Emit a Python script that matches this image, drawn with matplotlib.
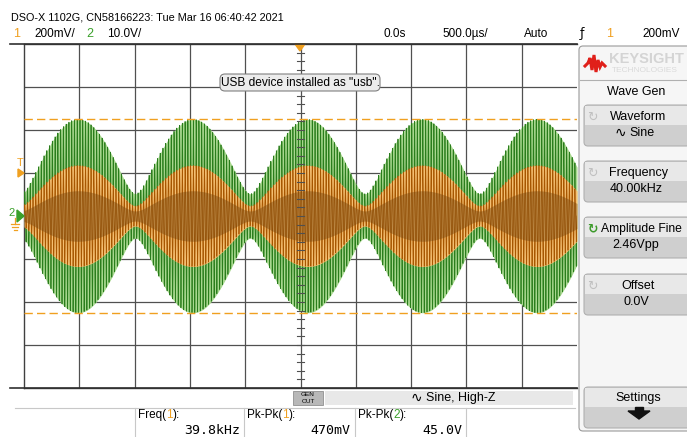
import numpy as np
import matplotlib.pyplot as plt
from matplotlib.patches import FancyBboxPatch, Rectangle, Polygon

# ---- values ----
header = "DSO-X 1102G, CN58166223: Tue Mar 16 06:40:42 2021"
ch1_scale = "200mV/"
ch2_scale = "10.0V/"
time_delay = "0.0s"
time_scale = "500.0\u00b5s/"
trig_mode = "Auto"
trig_level = "200mV"

carrier_khz = 40.0          # wave gen frequency
us_per_div = 500.0
n_div_x = 10
n_div_y = 8
beat_period_div = 2.075     # envelope period on screen
beat_peak_div = 0.98        # first envelope maximum
ch2_pkpk_v = 45.0
ch2_v_per_div = 10.0
ch1_pkpk_mv = 470.0
ch1_mv_per_div = 200.0
ch2_waist = 0.23            # envelope min / max
ch1_waist = 0.20
cursor_div = 2.26           # orange dashed cursors

meas_names = ["Freq(", "Pk-Pk(", "Pk-Pk("]
meas_ch = ["1", "1", "2"]
meas_vals = ["39.8kHz", "470mV", "45.0V"]

panel_buttons = [("Waveform", "Sine"), ("Frequency", "40.00kHz"),
                 ("Amplitude Fine", "2.46Vpp"), ("Offset", "0.0V")]
button_tops = [105, 161, 217, 274]

W, H = 687, 437
ORANGE = "#f0a020"
GREEN = "#3aa02a"
plt.rcParams['font.family'] = ["Liberation Sans", "DejaVu Sans"]

fig = plt.figure(figsize=(W / 100, H / 100), dpi=100)
fig.patch.set_facecolor("white")

# graticule axes (pixel box 24..577 x 44..388)
gx0, gx1, gy0, gy1 = 24, 577, 44, 388
ax = fig.add_axes([gx0 / W, 1 - gy1 / H, (gx1 - gx0) / W, (gy1 - gy0) / H])
ax.set_xlim(0, n_div_x)
ax.set_ylim(-n_div_y / 2, n_div_y / 2)
ax.set_xticks([])
ax.set_yticks([])
for s in ax.spines.values():
    s.set_color("#404040")
    s.set_linewidth(1.0)
ax.spines['right'].set_visible(False)

for i in range(1, n_div_x):
    ax.axvline(i, color="#505050", lw=0.9, zorder=1)
for j in range(-3, 4):
    ax.axhline(j, color="#505050", lw=0.9, zorder=1)

# traces
t_us = np.linspace(0, us_per_div * n_div_x, 8000)
t_div = t_us / us_per_div


def envelope(waist):
    b = (1 - waist) / (1 + waist)
    ph = 2 * np.pi * (t_div - beat_peak_div) / beat_period_div
    return np.sqrt(1 + b * b + 2 * b * np.cos(ph)) / (1 + b)


carrier = np.sin(2 * np.pi * carrier_khz * 1e-3 * t_us)
env2 = envelope(ch2_waist) * ch2_pkpk_v / 2 / ch2_v_per_div
env1 = envelope(ch1_waist) * ch1_pkpk_mv / 2 / ch1_mv_per_div

ax.fill_between(t_div, -env2, env2, color="#a8d88f", lw=0, zorder=2)
ax.plot(t_div, env2 * carrier, color="#2a7d1c", lw=0.55, zorder=3)
ax.fill_between(t_div, -env1, env1, color="#f5bf72", lw=0, zorder=4)
ax.plot(t_div, env1 * carrier, color="#a65600", lw=0.55, zorder=5)
ax.fill_between(t_div, -0.5 * env1, 0.5 * env1, color="#6a3c08", alpha=0.38,
                lw=0, zorder=5)

for yc in (cursor_div, -cursor_div):
    ax.axhline(yc, color=ORANGE, lw=1.0, ls=(0, (6, 3)), zorder=6)

# center ticks
for k in np.arange(0.2, n_div_x, 0.2):
    ax.plot([k, k], [-0.06, 0.06], color="#505050", lw=0.8, zorder=1.5)
for k in np.arange(-3.8, 4, 0.2):
    ax.plot([4.94, 5.06], [k, k], color="#505050", lw=0.8, zorder=7)

# overlay in pixel coordinates
ov = fig.add_axes([0, 0, 1, 1], zorder=10)
ov.set_xlim(0, W)
ov.set_ylim(H, 0)
ov.axis("off")
ov.patch.set_alpha(0)
renderer = fig.canvas.get_renderer()


def put(x, y, s, size, **kw):
    kw.setdefault("va", "center")
    return ov.text(x, y, s, fontsize=size, **kw)


ov.plot([10, gx1], [gy0, gy0], color="#303030", lw=1.2)
ov.plot([10, gx1], [gy1, gy1], color="#303030", lw=1.2)

put(11, 17, header, 7.8)
put(13, 34, "1", 9, color=ORANGE)
put(34, 34, ch1_scale, 8.5)
put(86, 34, "2", 9, color=GREEN)
put(107, 34, ch2_scale, 8.5)
put(383, 34, time_delay, 8.5)
put(442, 34, time_scale, 8.5)
put(524, 34, trig_mode, 8.5)
put(580, 34, "\u0192", 9, family=["DejaVu Sans"])
put(606, 34, "1", 9, color=ORANGE)
put(680, 34, trig_level, 8.5, ha="right")

# markers on the graticule
ov.add_patch(Polygon([[295, 44], [305, 44], [300, 51]], color=ORANGE))
put(20, 163, "T", 8, color=ORANGE, ha="center")
ov.add_patch(Polygon([[18, 169], [24, 173], [18, 177]], color=ORANGE))
put(12, 213, "2", 8, color=GREEN, ha="center")
ov.add_patch(Polygon([[17, 210], [24, 216], [17, 222]], color=GREEN))
ov.plot([15, 15], [218, 224], color=ORANGE, lw=0.9)
for dy, hw in ((224, 4), (227, 3), (230, 1.5)):
    ov.plot([15 - hw, 15 + hw], [dy, dy], color=ORANGE, lw=0.9)

# usb message
ov.add_patch(FancyBboxPatch((220, 74), 160, 17, boxstyle="round,pad=0,rounding_size=5",
                            fc="#ececec", ec="#808080", lw=0.8, zorder=8))
put(300, 82.5, 'USB device installed as "usb".', 8.6, ha="center", zorder=9)

# right panel
ov.add_patch(FancyBboxPatch((579, 46), 112, 385, boxstyle="round,pad=0,rounding_size=4",
                            fc="#f6f6f6", ec="#9a9a9a", lw=0.8))
lx = np.array([585, 588, 590, 592, 594, 596, 598, 600, 602, 605])
ly = np.array([66, 63, 58, 70, 55, 72, 60, 67, 63, 66])
ov.plot(lx, ly, color="#e0201a", lw=2.2, solid_joinstyle="miter")
put(609, 59, "KEYSIGHT", 10.5, color="#d4d4d4", weight="bold")
put(612, 71, "TECHNOLOGIES", 6, color="#dadada")
ov.plot([580, 687], [80, 80], color="#b0b0b0", lw=0.8)
put(636, 92, "Wave Gen", 9, ha="center")

for (name, val), top in zip(panel_buttons, button_tops):
    ov.add_patch(FancyBboxPatch((584, top), 106, 41, boxstyle="round,pad=0,rounding_size=4",
                                fc="#cfcfcf", ec="#b0b0b0", lw=0.8))
    ov.add_patch(Rectangle((585, top + 1), 104, 19, fc="#e8e8e8", lw=0))
    amp = name == "Amplitude Fine"
    ov.text(592, top + 12, "\u21bb", fontsize=9, color="#3c9a2a" if amp else "#c0c0c0",
            ha="center", va="center", family=["DejaVu Sans"],
            weight="bold" if amp else "normal")
    if amp:
        put(601, top + 12, name, 8.7)
    else:
        put(638, top + 12, name, 9, ha="center")
    if name == "Waveform":
        ov.text(620, top + 28, "\u223f", fontsize=10, va="center", ha="center",
                family=["DejaVu Sans"])
        put(629, top + 28, val, 9)
    else:
        put(636, top + 28, val, 9, ha="center")

ov.add_patch(FancyBboxPatch((584, 387), 106, 41, boxstyle="round,pad=0,rounding_size=4",
                            fc="#cfcfcf", ec="#b0b0b0", lw=0.8))
ov.add_patch(Rectangle((585, 388), 104, 19, fc="#e8e8e8", lw=0))
put(638, 398, "Settings", 9, ha="center")
ov.add_patch(Polygon([[628, 411], [650, 411], [639, 419]], color="#111111"))
ov.add_patch(Rectangle((635, 407), 8, 5, color="#111111"))

# bottom strip
ov.add_patch(Rectangle((293, 391), 30, 14, fc="#b8b8b8", ec="#909090", lw=0.6))
put(308, 394.5, "GEN", 4.6, ha="center")
put(308, 401.5, "OUT", 4.6, ha="center")
ov.add_patch(Rectangle((325, 391), 248, 14, fc="#e8e8e8", lw=0))
ov.text(416, 398, "\u223f", fontsize=10, ha="center", va="center", family=["DejaVu Sans"])
put(426, 398, "Sine, High-Z", 9)
ov.plot([15, 575], [408, 408], color="#c8c8c8", lw=0.8)

for sx in (135, 244, 355, 466):
    ov.plot([sx, sx], [408, 437], color="#c8c8c8", lw=0.8)

for i, (nm, ch, v) in enumerate(zip(meas_names, meas_ch, meas_vals)):
    x0 = [138, 247, 358][i]
    x1 = [240, 350, 462][i]
    t1 = put(x0, 415, nm, 8.5)
    bb = t1.get_window_extent(renderer).transformed(ov.transData.inverted())
    t2 = put(bb.x1, 415, ch, 8.5, color=ORANGE if ch == "1" else GREEN)
    bb2 = t2.get_window_extent(renderer).transformed(ov.transData.inverted())
    put(bb2.x1, 415, "):", 8.5)
    ov.text(x1, 430, v, fontsize=9.5, va="center", ha="right", family=["DejaVu Sans Mono"])

fig.savefig("out.png", dpi=100)
